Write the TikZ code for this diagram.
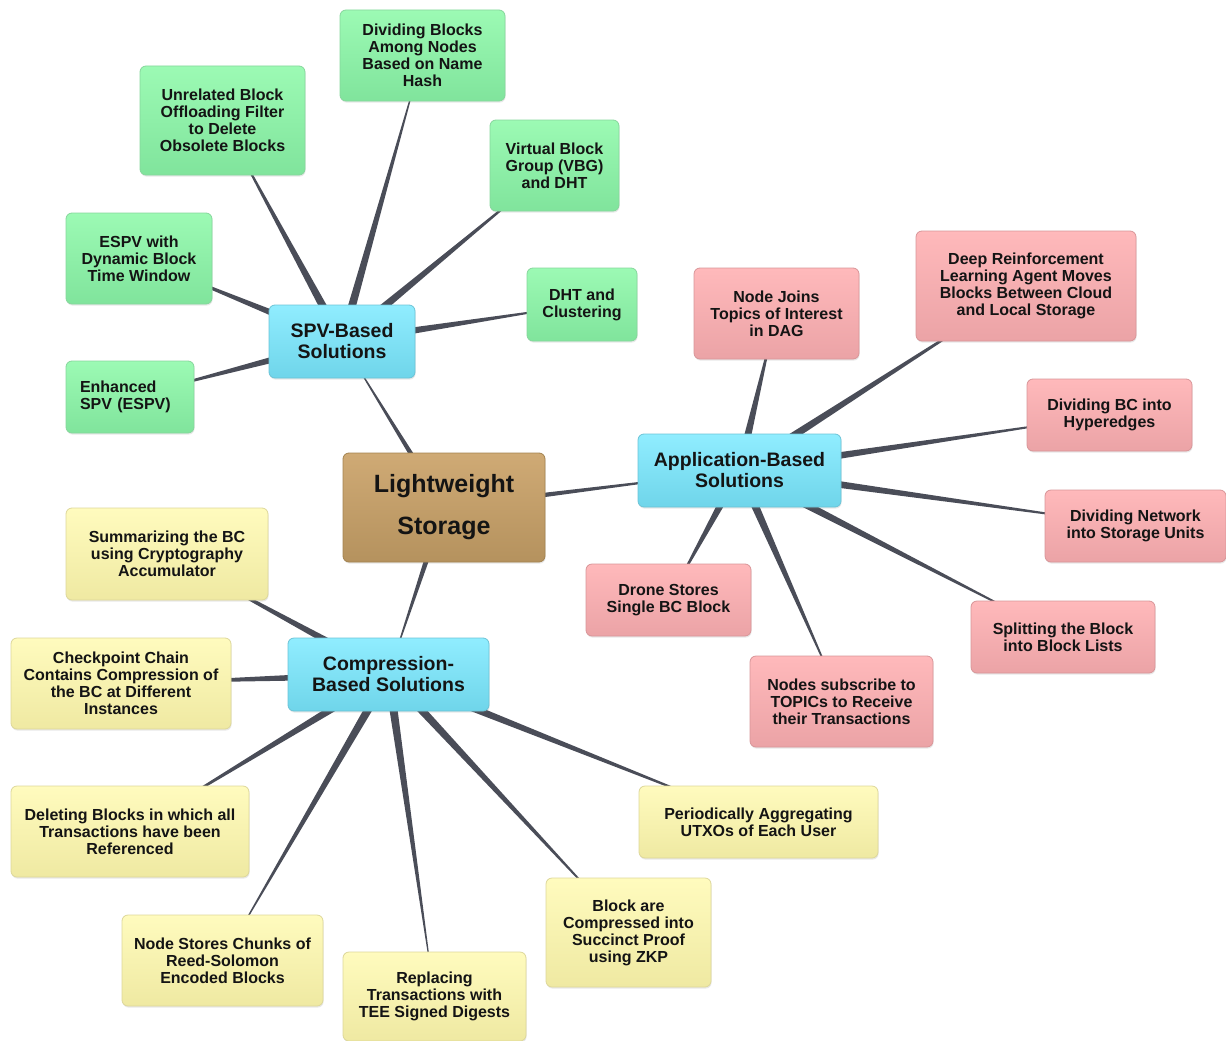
\documentclass[tikz,border=0pt]{standalone}
\usepackage{fontspec}
\setmainfont{Liberation Sans}
\usetikzlibrary{calc,shadows}
\pgfdeclarelayer{bg}
\pgfsetlayers{bg,main}
\definecolor{conncol}{HTML}{4A4D58}
\definecolor{txtcol}{HTML}{141414}
\definecolor{gtop}{HTML}{9CFAB4}\definecolor{gbot}{HTML}{80E49C}\definecolor{gbrd}{HTML}{86D69C}
\definecolor{rtop}{HTML}{FFB9BB}\definecolor{rbot}{HTML}{EBA3A6}\definecolor{rbrd}{HTML}{D89598}
\definecolor{ytop}{HTML}{FFFBBE}\definecolor{ybot}{HTML}{EFE9A2}\definecolor{ybrd}{HTML}{DDD79A}
\definecolor{ctop}{HTML}{90EDFF}\definecolor{cbot}{HTML}{6FD5EA}\definecolor{cbrd}{HTML}{6CC3D6}
\definecolor{btop}{HTML}{CFAA75}\definecolor{bbot}{HTML}{B5925E}\definecolor{bbrd}{HTML}{A38350}
\tikzset{
  box/.style={rounded corners=6pt, line width=0.8pt, inner sep=0pt, align=center,
    text=txtcol, drop shadow={opacity=0.18, shadow xshift=0.6pt, shadow yshift=-1.6pt}},
  sz/.style 2 args={minimum width=#1, minimum height=#2},
  leaf/.style={box, font=\fontsize{16}{17}\selectfont\bfseries},
  gleaf/.style={leaf, top color=gtop, bottom color=gbot, draw=gbrd},
  rleaf/.style={leaf, top color=rtop, bottom color=rbot, draw=rbrd},
  yleaf/.style={leaf, top color=ytop, bottom color=ybot, draw=ybrd},
  hub/.style={box, top color=ctop, bottom color=cbot, draw=cbrd, font=\fontsize{19.5}{21}\selectfont\bfseries},
  root/.style={box, top color=btop, bottom color=bbot, draw=bbrd, font=\fontsize{25}{42}\selectfont\bfseries},
  conn/.style={fill=conncol}
}
\newcommand\taper[3]{\fill[conn] ($(#1.center)!#3!90:(#2.center)$) -- ($(#1.center)!#3!-90:(#2.center)$) -- (#2.center) -- cycle;}
\begin{document}
\begin{tikzpicture}[x=1pt,y=-1pt]
\useasboundingbox (0,0) rectangle (1226,1041);
% root and hubs
\node[root, sz={202pt}{109pt}] (root) at (444,507.5) {Lightweight\\Storage};
\node[hub, sz={146pt}{73pt}] (spv) at (342,341.5) {SPV-Based\\Solutions};
\node[hub, sz={203pt}{73pt}] (app) at (739.5,470.5) {Application-Based\\Solutions};
\node[hub, sz={201pt}{73pt}] (comp) at (388.5,674.5) {Compression-\\Based Solutions};
% green leaves
\node[gleaf, sz={165pt}{91pt}] (g1) at (422.5,55.5) {Dividing Blocks\\Among Nodes\\Based on Name\\Hash};
\node[gleaf, sz={165pt}{109pt}] (g2) at (222.5,120.5) {Unrelated Block\\Offloading Filter\\to Delete\\Obsolete Blocks};
\node[gleaf, sz={129pt}{91pt}] (g3) at (554.5,165.5) {Virtual Block\\Group (VBG)\\and DHT};
\node[gleaf, sz={146pt}{91pt}] (g4) at (139,258.5) {ESPV with\\Dynamic Block\\Time Window};
\node[gleaf, sz={110pt}{73pt}] (g5) at (582,304.5) {DHT and\\Clustering};
\node[gleaf, sz={128pt}{72pt}, align=left, text width=100pt, inner xsep=14pt] (g6) at (130,397) {Enhanced\\SPV (ESPV)};
% red leaves
\node[rleaf, sz={165pt}{91pt}] (r1) at (776.5,313.5) {Node Joins\\Topics of Interest\\in DAG};
\node[rleaf, sz={220pt}{110pt}] (r2) at (1026,286) {Deep Reinforcement\\Learning Agent Moves\\Blocks Between Cloud\\and Local Storage};
\node[rleaf, sz={165pt}{72pt}] (r3) at (1109.5,415) {Dividing BC into\\Hyperedges};
\node[rleaf, sz={181pt}{72pt}] (r4) at (1135.5,526) {Dividing Network\\into Storage Units};
\node[rleaf, sz={165pt}{72pt}] (r5) at (668.5,600) {Drone Stores\\Single BC Block};
\node[rleaf, sz={184pt}{72pt}] (r6) at (1063,637) {Splitting the Block\\into Block Lists};
\node[rleaf, sz={183pt}{91pt}] (r7) at (841.5,701.5) {Nodes subscribe to\\TOPICs to Receive\\their Transactions};
% yellow leaves
\node[yleaf, sz={202pt}{92pt}] (y1) at (167,554) {Summarizing the BC\\using Cryptography\\Accumulator};
\node[yleaf, sz={220pt}{91pt}] (y2) at (121,683.5) {Checkpoint Chain\\Contains Compression of\\the BC at Different\\Instances};
\node[yleaf, sz={238pt}{91pt}] (y3) at (130,831.5) {Deleting Blocks in which all\\Transactions have been\\Referenced};
\node[yleaf, sz={201pt}{91pt}] (y4) at (222.5,960.5) {Node Stores Chunks of\\Reed-Solomon\\Encoded Blocks};
\node[yleaf, sz={183pt}{89pt}] (y5) at (434.5,996.5) {Replacing\\Transactions with\\TEE Signed Digests};
\node[yleaf, sz={165pt}{109pt}] (y6) at (628.5,932.5) {Block are\\Compressed into\\Succinct Proof\\using ZKP};
\node[yleaf, sz={239pt}{72pt}] (y7) at (758.5,822) {Periodically Aggregating\\UTXOs of Each User};
% connectors
\begin{pgfonlayer}{bg}
\taper{root}{spv}{3.3pt}
\taper{root}{app}{3.3pt}
\taper{root}{comp}{3.5pt}
\foreach \n in {g1,g2,g3,g4,g5,g6} {\taper{spv}{\n}{4.5pt}}
\foreach \n in {r1,r2,r3,r4,r5,r6,r7} {\taper{app}{\n}{4.5pt}}
\foreach \n in {y1,y2,y3,y4,y5,y6,y7} {\taper{comp}{\n}{4.5pt}}
\end{pgfonlayer}
\end{tikzpicture}
\end{document}
